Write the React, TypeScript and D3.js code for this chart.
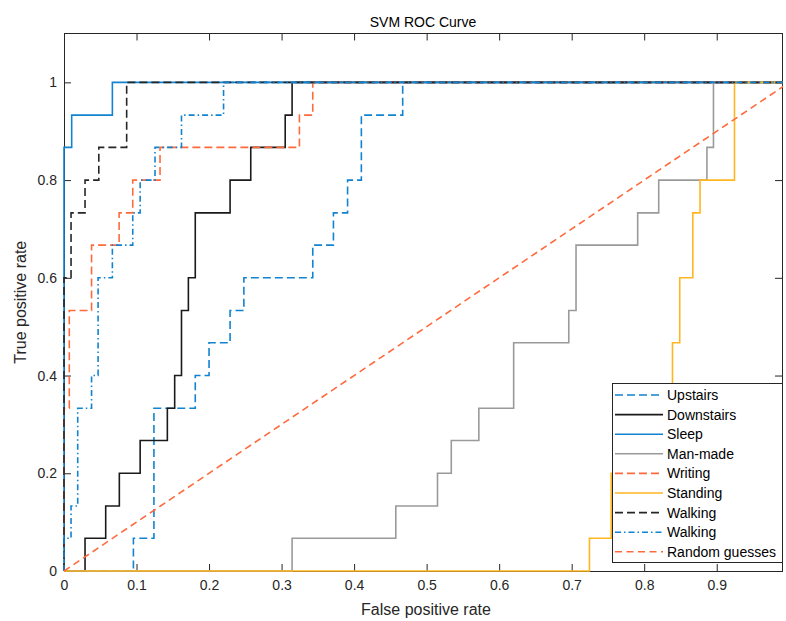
import React, { useEffect, useRef } from 'react';
import * as d3 from 'd3';

// tick values / labels
const xTicks = [0, 0.1, 0.2, 0.3, 0.4, 0.5, 0.6, 0.7, 0.8, 0.9];
const yTicks = [0, 0.2, 0.4, 0.6, 0.8, 1];

// ROC curves: each point is the top of a vertical step (fpr, tpr)
const upstairsFpr = [0, 0.0957, 0.124, 0.181, 0.2, 0.229, 0.248, 0.343, 0.3715, 0.391, 0.41, 0.467, 1];
const upstairsTpr = [0, 0.067, 0.333, 0.4, 0.467, 0.533, 0.6, 0.667, 0.733, 0.8, 0.933, 1, 1];

const downstairsFpr = [0, 0.029, 0.0575, 0.0763, 0.105, 0.1425, 0.1526, 0.162, 0.1715, 0.181, 0.229, 0.2575, 0.305, 0.3145, 1];
const downstairsTpr = [0, 0.067, 0.133, 0.2, 0.267, 0.333, 0.4, 0.533, 0.6, 0.733, 0.8, 0.867, 0.933, 1, 1];

const sleepFpr = [0, 0, 0.0106, 0.0667, 1];
const sleepTpr = [0, 0.867, 0.933, 1, 1];

const manMadeFpr = [0, 0.3145, 0.4575, 0.515, 0.534, 0.572, 0.62, 0.696, 0.706, 0.791, 0.82, 0.8865, 0.8955, 1];
const manMadeTpr = [0, 0.067, 0.133, 0.2, 0.267, 0.333, 0.467, 0.533, 0.667, 0.733, 0.8, 0.867, 1, 1];

const writingFpr = [0, 0, 0.0073, 0.038, 0.076, 0.0948, 0.1324, 0.3246, 0.343, 1];
const writingTpr = [0, 0.333, 0.533, 0.667, 0.733, 0.8, 0.867, 0.933, 1, 1];

const standingFpr = [0, 0.7245, 0.7545, 0.78, 0.81, 0.839, 0.849, 0.867, 0.877, 0.9245, 1];
const standingTpr = [0, 0.067, 0.2, 0.267, 0.333, 0.467, 0.6, 0.733, 0.8, 1, 1];

const walkingFpr = [0, 0, 0.0097, 0.029, 0.048, 0.0864, 1];
const walkingTpr = [0, 0.6, 0.733, 0.8, 0.867, 1, 1];

const walking2Fpr = [0, 0, 0.0097, 0.0189, 0.038, 0.047, 0.0667, 0.0948, 0.105, 0.1255, 0.162, 0.22, 1];
const walking2Tpr = [0, 0.067, 0.133, 0.333, 0.4, 0.6, 0.667, 0.733, 0.8, 0.867, 0.933, 1, 1];

const randomFpr = [0, 1];
const randomTpr = [0, 1];

const names = ['Upstairs', 'Downstairs', 'Sleep', 'Man-made', 'Writing', 'Standing', 'Walking', 'Walking', 'Random guesses'];

const BLUE = '#1283d0';
const RED = '#ff6a3d';
const styles = [
    { color: BLUE, dash: '8,4', step: true },
    { color: '#1a1a1a', dash: null, step: true },
    { color: BLUE, dash: null, step: true },
    { color: '#9a9a9a', dash: null, step: true },
    { color: RED, dash: '8,4', step: true },
    { color: '#ffb620', dash: null, step: true },
    { color: '#262626', dash: '8,4', step: true },
    { color: BLUE, dash: '6,3,1.5,3', step: true },
    { color: RED, dash: '7,4.5', step: false },
];

const series = [
    [upstairsFpr, upstairsTpr],
    [downstairsFpr, downstairsTpr],
    [sleepFpr, sleepTpr],
    [manMadeFpr, manMadeTpr],
    [writingFpr, writingTpr],
    [standingFpr, standingTpr],
    [walkingFpr, walkingTpr],
    [walking2Fpr, walking2Tpr],
    [randomFpr, randomTpr],
];

export default function App() {
    const ref = useRef<SVGSVGElement>(null);

    useEffect(() => {
        drawChart();
        // eslint-disable-next-line
    }, []);

    function drawChart() {
        const left = 64, right = 782, top = 33.5, bottom = 571;
        const font = '"Liberation Sans", Arial, Helvetica, sans-serif';
        const axisColor = '#262626';

        const svg = d3.select(ref.current);
        svg.selectAll('*').remove();

        const x = d3.scaleLinear().domain([0, 0.99]).range([left, right]);
        const y = d3.scaleLinear().domain([0, 1.1]).range([bottom, top]);

        svg.append('clipPath')
            .attr('id', 'plotclip')
            .append('rect')
            .attr('x', left - 1)
            .attr('y', top)
            .attr('width', right - left + 2)
            .attr('height', bottom - top + 2);

        // white plot background + box
        svg.append('rect')
            .attr('x', left).attr('y', top)
            .attr('width', right - left).attr('height', bottom - top)
            .attr('fill', '#fff');

        // axes (ticks pointing inward, as in MATLAB)
        const bx = svg.append('g').attr('transform', `translate(0,${bottom})`)
            .call(d3.axisBottom(x).tickValues(xTicks).tickFormat(d3.format('')).tickSize(-7).tickPadding(9));
        const tx = svg.append('g').attr('transform', `translate(0,${top})`)
            .call(d3.axisTop(x).tickValues(xTicks).tickFormat(() => '').tickSize(-7));
        const ly = svg.append('g').attr('transform', `translate(${left},0)`)
            .call(d3.axisLeft(y).tickValues(yTicks).tickFormat(d3.format('')).tickSize(-7).tickPadding(7));
        const ry = svg.append('g').attr('transform', `translate(${right},0)`)
            .call(d3.axisRight(y).tickValues(yTicks).tickFormat(() => '').tickSize(-7));

        [bx, tx, ly, ry].forEach((g) => {
            g.select('.domain').remove();
            g.selectAll('line').attr('stroke', axisColor);
            g.selectAll('text').attr('fill', axisColor).style('font-family', font).style('font-size', '14px');
        });

        svg.append('rect')
            .attr('x', left).attr('y', top)
            .attr('width', right - left).attr('height', bottom - top)
            .attr('fill', 'none')
            .attr('stroke', axisColor)
            .attr('stroke-width', 1)
            .attr('shape-rendering', 'crispEdges');

        // curves
        const plot = svg.append('g').attr('clip-path', 'url(#plotclip)');
        series.forEach(([fx, ty], i) => {
            const st = styles[i];
            const pts = fx.map((v, k) => [v, ty[k]] as [number, number]);
            const line = d3.line<[number, number]>()
                .x((d) => x(d[0]))
                .y((d) => y(d[1]))
                .curve(st.step ? d3.curveStepAfter : d3.curveLinear);
            plot.append('path')
                .attr('d', line(pts))
                .attr('fill', 'none')
                .attr('stroke', st.color)
                .attr('stroke-width', 1.6)
                .attr('stroke-dasharray', st.dash)
                .attr('stroke-linejoin', 'miter');
        });

        // title and axis labels
        svg.append('text')
            .attr('x', (left + right) / 2).attr('y', 27)
            .attr('text-anchor', 'middle')
            .attr('fill', '#000')
            .style('font-family', font).style('font-size', '14px')
            .text('SVM ROC Curve');

        svg.append('text')
            .attr('x', (left + right) / 2 + 3).attr('y', 615)
            .attr('text-anchor', 'middle')
            .attr('fill', axisColor)
            .style('font-family', font).style('font-size', '16px')
            .text('False positive rate');

        svg.append('text')
            .attr('transform', `translate(26,${(top + bottom) / 2}) rotate(-90)`)
            .attr('text-anchor', 'middle')
            .attr('fill', axisColor)
            .style('font-family', font).style('font-size', '16px')
            .text('True positive rate');

        // legend
        const lg = svg.append('g');
        lg.append('rect')
            .attr('x', 612).attr('y', 383.5)
            .attr('width', 170).attr('height', 178.5)
            .attr('fill', '#fff')
            .attr('stroke', axisColor)
            .attr('stroke-width', 1)
            .attr('shape-rendering', 'crispEdges');
        names.forEach((name, i) => {
            const st = styles[i];
            const yy = 395 + i * 19.6;
            lg.append('line')
                .attr('x1', 615).attr('x2', 663)
                .attr('y1', yy).attr('y2', yy)
                .attr('stroke', st.color)
                .attr('stroke-width', 1.6)
                .attr('stroke-dasharray', st.dash);
            lg.append('text')
                .attr('x', 667).attr('y', yy)
                .attr('dy', '0.35em')
                .attr('fill', '#000')
                .style('font-family', font).style('font-size', '14px')
                .text(name);
        });
    }

    return (
        <svg
            ref={ref}
            width={786}
            height={621}
            style={{ position: 'absolute', left: 0, top: 0, background: '#fff' }}
        />
    );
}
